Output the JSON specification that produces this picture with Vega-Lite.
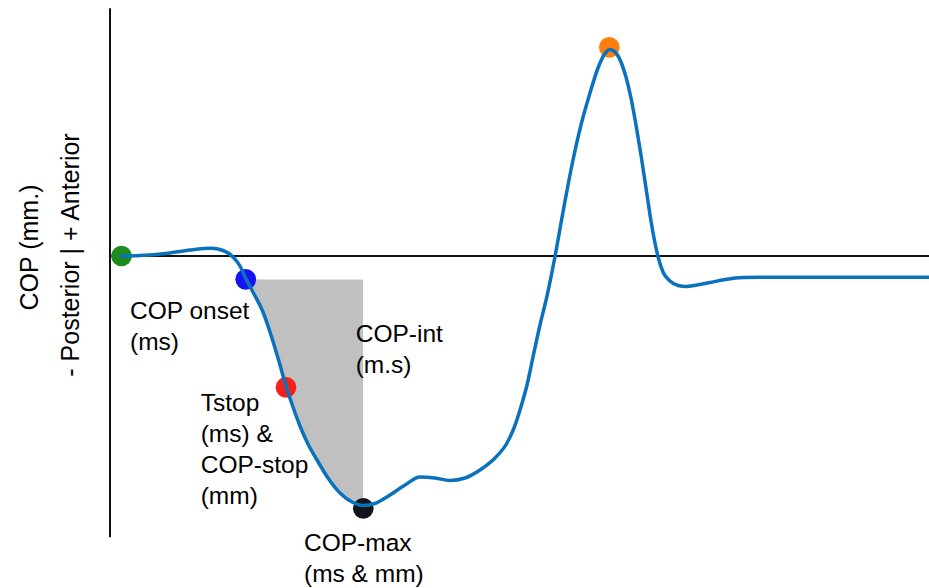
{
  "$schema": "https://vega.github.io/schema/vega-lite/v6.json",
  "width": 929,
  "height": 588,
  "autosize": {"type": "none"},
  "padding": 0,
  "background": "white",
  "config": {"view": {"stroke": null}},
  "datasets": {
    "curve": [
      {"t": 10, "cop": 0}, {"t": 30, "cop": 0.05}, {"t": 56, "cop": 0.25}, {"t": 80, "cop": 0.6},
      {"t": 101, "cop": 0.77}, {"t": 113, "cop": 0.55}, {"t": 123, "cop": -0.1}, {"t": 130, "cop": -1.0},
      {"t": 136, "cop": -2.3}, {"t": 144, "cop": -3.8}, {"t": 153, "cop": -5.6}, {"t": 160, "cop": -7.6},
      {"t": 168, "cop": -10.2}, {"t": 176, "cop": -13.0}, {"t": 183, "cop": -15.1}, {"t": 190, "cop": -17.0},
      {"t": 198, "cop": -18.8}, {"t": 207, "cop": -20.4}, {"t": 218, "cop": -22.2}, {"t": 230, "cop": -23.7},
      {"t": 242, "cop": -24.6}, {"t": 253, "cop": -24.95}, {"t": 265, "cop": -24.75}, {"t": 280, "cop": -23.9},
      {"t": 295, "cop": -22.9}, {"t": 310, "cop": -22.1}, {"t": 325, "cop": -22.2}, {"t": 340, "cop": -22.45},
      {"t": 355, "cop": -22.2}, {"t": 370, "cop": -21.4}, {"t": 385, "cop": -20.2}, {"t": 397, "cop": -18.7},
      {"t": 404, "cop": -17.2}, {"t": 410, "cop": -15.4}, {"t": 417, "cop": -12.9}, {"t": 423, "cop": -10.1},
      {"t": 430, "cop": -6.9}, {"t": 437, "cop": -4.0}, {"t": 445, "cop": -0.05}, {"t": 453, "cop": 4.4},
      {"t": 463, "cop": 9.6}, {"t": 471, "cop": 13.1}, {"t": 480, "cop": 16.3}, {"t": 488, "cop": 18.8},
      {"t": 494, "cop": 20.1}, {"t": 500, "cop": 20.65}, {"t": 506, "cop": 20.3}, {"t": 511, "cop": 19.4},
      {"t": 516, "cop": 17.9}, {"t": 521, "cop": 15.8}, {"t": 526, "cop": 13.1}, {"t": 531, "cop": 10.1},
      {"t": 536, "cop": 6.8}, {"t": 541, "cop": 3.5}, {"t": 545, "cop": 1.3}, {"t": 548, "cop": -0.05},
      {"t": 553, "cop": -1.6}, {"t": 560, "cop": -2.5}, {"t": 568, "cop": -2.95}, {"t": 576, "cop": -3.05},
      {"t": 587, "cop": -2.9}, {"t": 600, "cop": -2.65}, {"t": 615, "cop": -2.35}, {"t": 633, "cop": -2.15},
      {"t": 650, "cop": -2.13}, {"t": 819, "cop": -2.13}
    ],
    "events": [
      {"event": "start", "t": 11.5, "cop": 0},
      {"event": "COP onset", "t": 135.7, "cop": -2.33},
      {"event": "Tstop", "t": 176, "cop": -13.13},
      {"event": "COP-max", "t": 253.3, "cop": -25.23},
      {"event": "COP peak", "t": 499.3, "cop": 20.87}
    ],
    "labels": [
      {"label": "COP onset\n(ms)", "t": 20, "cop": -6.29},
      {"label": "COP-int\n(m.s)", "t": 245.7, "cop": -8.62},
      {"label": "Tstop\n(ms) &\nCOP-stop\n(mm)", "t": 90.7, "cop": -15.45},
      {"label": "COP-max\n(ms & mm)", "t": 194, "cop": -29.45}
    ],
    "titles": [
      {"label": "COP (mm.)", "t": -80.5, "cop": 0.85},
      {"label": "- Posterior | + Anterior", "t": -39, "cop": 0.1}
    ]
  },
  "layer": [
    {
      "data": {"name": "curve"},
      "transform": [{"filter": "datum.t >= 136 && datum.t <= 253"}],
      "mark": {"type": "area", "color": "#c0c0c0", "interpolate": "monotone"},
      "encoding": {
        "x": {"field": "t", "type": "quantitative", "scale": {"domain": [-110, 819], "nice": false, "zero": false}, "axis": null},
        "y": {"field": "cop", "type": "quantitative", "scale": {"domain": [-33.2, 25.6], "nice": false, "zero": false}, "axis": null},
        "y2": {"datum": -2.35}
      }
    },
    {
      "data": {"values": [{}]},
      "mark": {"type": "rule", "color": "#111111", "strokeWidth": 2},
      "encoding": {
        "x": {"datum": 0, "type": "quantitative"},
        "y": {"datum": 24.77, "type": "quantitative"},
        "y2": {"datum": -28.13}
      }
    },
    {
      "data": {"values": [{}]},
      "mark": {"type": "rule", "color": "#111111", "strokeWidth": 2},
      "encoding": {
        "x": {"datum": 0, "type": "quantitative"},
        "x2": {"datum": 819},
        "y": {"datum": 0, "type": "quantitative"}
      }
    },
    {
      "data": {"name": "events"},
      "mark": {"type": "circle", "size": 430, "opacity": 1},
      "encoding": {
        "x": {"field": "t", "type": "quantitative"},
        "y": {"field": "cop", "type": "quantitative"},
        "color": {
          "field": "event",
          "type": "nominal",
          "scale": {
            "domain": ["start", "COP onset", "Tstop", "COP-max", "COP peak"],
            "range": ["#1f8b1f", "#1414f0", "#f2221a", "#14141c", "#ff7f0e"]
          },
          "legend": null
        }
      }
    },
    {
      "data": {"name": "curve"},
      "mark": {"type": "line", "color": "#0a72bd", "strokeWidth": 3.5, "interpolate": "monotone"},
      "encoding": {
        "x": {"field": "t", "type": "quantitative"},
        "y": {"field": "cop", "type": "quantitative"}
      }
    },
    {
      "data": {"name": "labels"},
      "mark": {"type": "text", "align": "left", "baseline": "alphabetic", "font": "Liberation Sans", "fontSize": 24.5, "lineHeight": 31, "lineBreak": "\n", "color": "#000000"},
      "encoding": {
        "x": {"field": "t", "type": "quantitative"},
        "y": {"field": "cop", "type": "quantitative"},
        "text": {"field": "label"}
      }
    },
    {
      "data": {"name": "titles"},
      "mark": {"type": "text", "align": "center", "baseline": "middle", "angle": 270, "font": "Liberation Sans", "fontSize": 25, "color": "#000000"},
      "encoding": {
        "x": {"field": "t", "type": "quantitative"},
        "y": {"field": "cop", "type": "quantitative"},
        "text": {"field": "label"}
      }
    }
  ]
}
